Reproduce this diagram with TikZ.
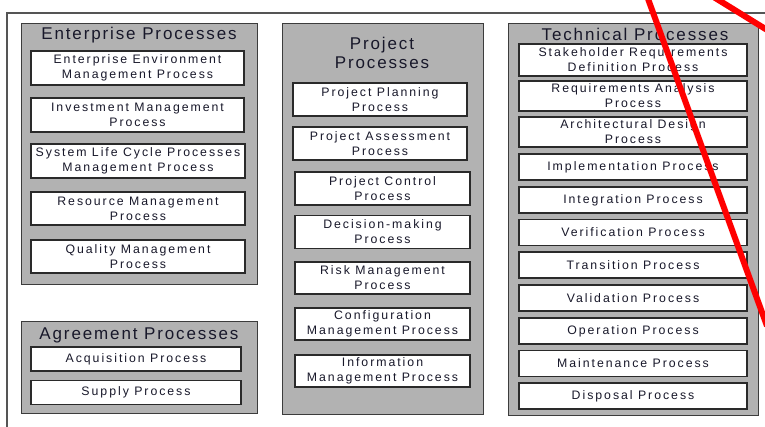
\documentclass[tikz,border=0pt]{standalone}
\usepackage{fontspec}
\setmainfont{Liberation Sans}
\newfontfamily\boxfont[LetterSpace=16]{Liberation Sans}
\newfontfamily\titlefont[LetterSpace=11]{Liberation Sans}
\definecolor{groupfill}{HTML}{B2B2B2}
\definecolor{grayline}{HTML}{3C3C3C}
\definecolor{boxline}{HTML}{2A2A2A}
\definecolor{textcol}{HTML}{18182A}
\definecolor{framecol}{HTML}{555555}
\begin{document}
\begin{tikzpicture}[x=1pt,y=-1pt,
  group/.style={draw=grayline, fill=groupfill, line width=1.3pt, anchor=north west, inner sep=0pt},
  proc/.style={draw=boxline, fill=white, line width=1.3pt, inner sep=0pt, align=center,
    font=\boxfont\fontsize{12.3}{15}\selectfont, text=textcol},
  ttl/.style={font=\titlefont\fontsize{17}{19}\selectfont, align=center, text=textcol, inner sep=0pt},
  strike/.style={draw=red, line width=6pt}]
\clip (0,0) rectangle (765,426);
\fill[white] (0,0) rectangle (765,426);
% outer frame
\coordinate (fbl) at (7,430);
\coordinate (ftl) at (7,13);
\coordinate (ftr) at (770,13);
\draw[framecol, line width=1.5pt] (fbl) -- (ftl) -- (ftr);

% Enterprise
\node[group, minimum width=236pt, minimum height=261pt] (eg) at (21,23) {};
\node[ttl] (et) at (139,35.5) {Enterprise Processes};
\node[proc, minimum width=213pt, minimum height=34pt] (e1) at (137.5,68) {Enterprise Environment\\Management Process};
\node[proc, minimum width=213pt, minimum height=34pt] (e2) at (137.5,115) {Investment Management\\Process};
\node[proc, minimum width=214pt, minimum height=34pt] (e3) at (138,161) {System Life Cycle Processes\\Management Process};
\node[proc, minimum width=214pt, minimum height=33pt] (e4) at (138,208.5) {Resource Management\\Process};
\node[proc, minimum width=214pt, minimum height=33pt] (e5) at (138,256.5) {Quality Management\\Process};

% Agreement
\node[group, minimum width=236pt, minimum height=92pt] (ag) at (21,321) {};
\node[ttl] (at) at (139,335.5) {Agreement Processes};
\node[proc, minimum width=210pt, minimum height=24pt] (a1) at (136,359) {Acquisition Process};
\node[proc, minimum width=210pt, minimum height=24pt] (a2) at (136,392.5) {Supply Process};

% Project
\node[group, minimum width=201pt, minimum height=391pt] (pg) at (282,23) {};
\node[ttl] (pt) at (382,53) {Project\\Processes};
\node[proc, minimum width=174pt, minimum height=33pt] (p1) at (380,99.5) {Project Planning\\Process};
\node[proc, minimum width=174pt, minimum height=33pt] (p2) at (380,143.5) {Project Assessment\\Process};
\node[proc, minimum width=175pt, minimum height=33pt] (p3) at (382.5,188.5) {Project Control\\Process};
\node[proc, minimum width=175pt, minimum height=33pt] (p4) at (382.5,232) {Decision-making\\Process};
\node[proc, minimum width=175pt, minimum height=32pt] (p5) at (382.5,278) {Risk Management\\Process};
\node[proc, minimum width=175pt, minimum height=32pt] (p6) at (382.5,324) {Configuration\\Management Process};
\node[proc, minimum width=175pt, minimum height=32pt] (p7) at (382.5,371) {Information\\Management Process};

% Technical
\node[group, minimum width=250pt, minimum height=392pt] (tg) at (508,23) {};
\node[ttl] (tt) at (635,34.5) {Technical Processes};
\node[proc, minimum width=228pt, minimum height=32pt] (t1) at (633,60) {Stakeholder Requirements\\Definition Process};
\node[proc, minimum width=228pt, minimum height=30pt] (t2) at (633,96) {Requirements Analysis\\Process};
\node[proc, minimum width=228pt, minimum height=30pt] (t3) at (633,132) {Architectural Design\\Process};
\node[proc, minimum width=228pt, minimum height=26pt] (t4) at (633,167) {Implementation Process};
\node[proc, minimum width=228pt, minimum height=26pt] (t5) at (633,200) {Integration Process};
\node[proc, minimum width=228pt, minimum height=26pt] (t6) at (633,232.5) {Verification Process};
\node[proc, minimum width=228pt, minimum height=26pt] (t7) at (633,265) {Transition Process};
\node[proc, minimum width=228pt, minimum height=26pt] (t8) at (633,298) {Validation Process};
\node[proc, minimum width=228pt, minimum height=26pt] (t9) at (633,331) {Operation Process};
\node[proc, minimum width=228pt, minimum height=26pt] (t10) at (633,363.5) {Maintenance Process};
\node[proc, minimum width=228pt, minimum height=26pt] (t11) at (633,396) {Disposal Process};

% red strike lines
\coordinate (r1a) at (647,-4);
\coordinate (r1b) at (767,326);
\coordinate (r2a) at (712,-4);
\coordinate (r2b) at (772,33);
\draw[strike] (r1a) -- (r1b);
\draw[strike] (r2a) -- (r2b);
\end{tikzpicture}
\end{document}
